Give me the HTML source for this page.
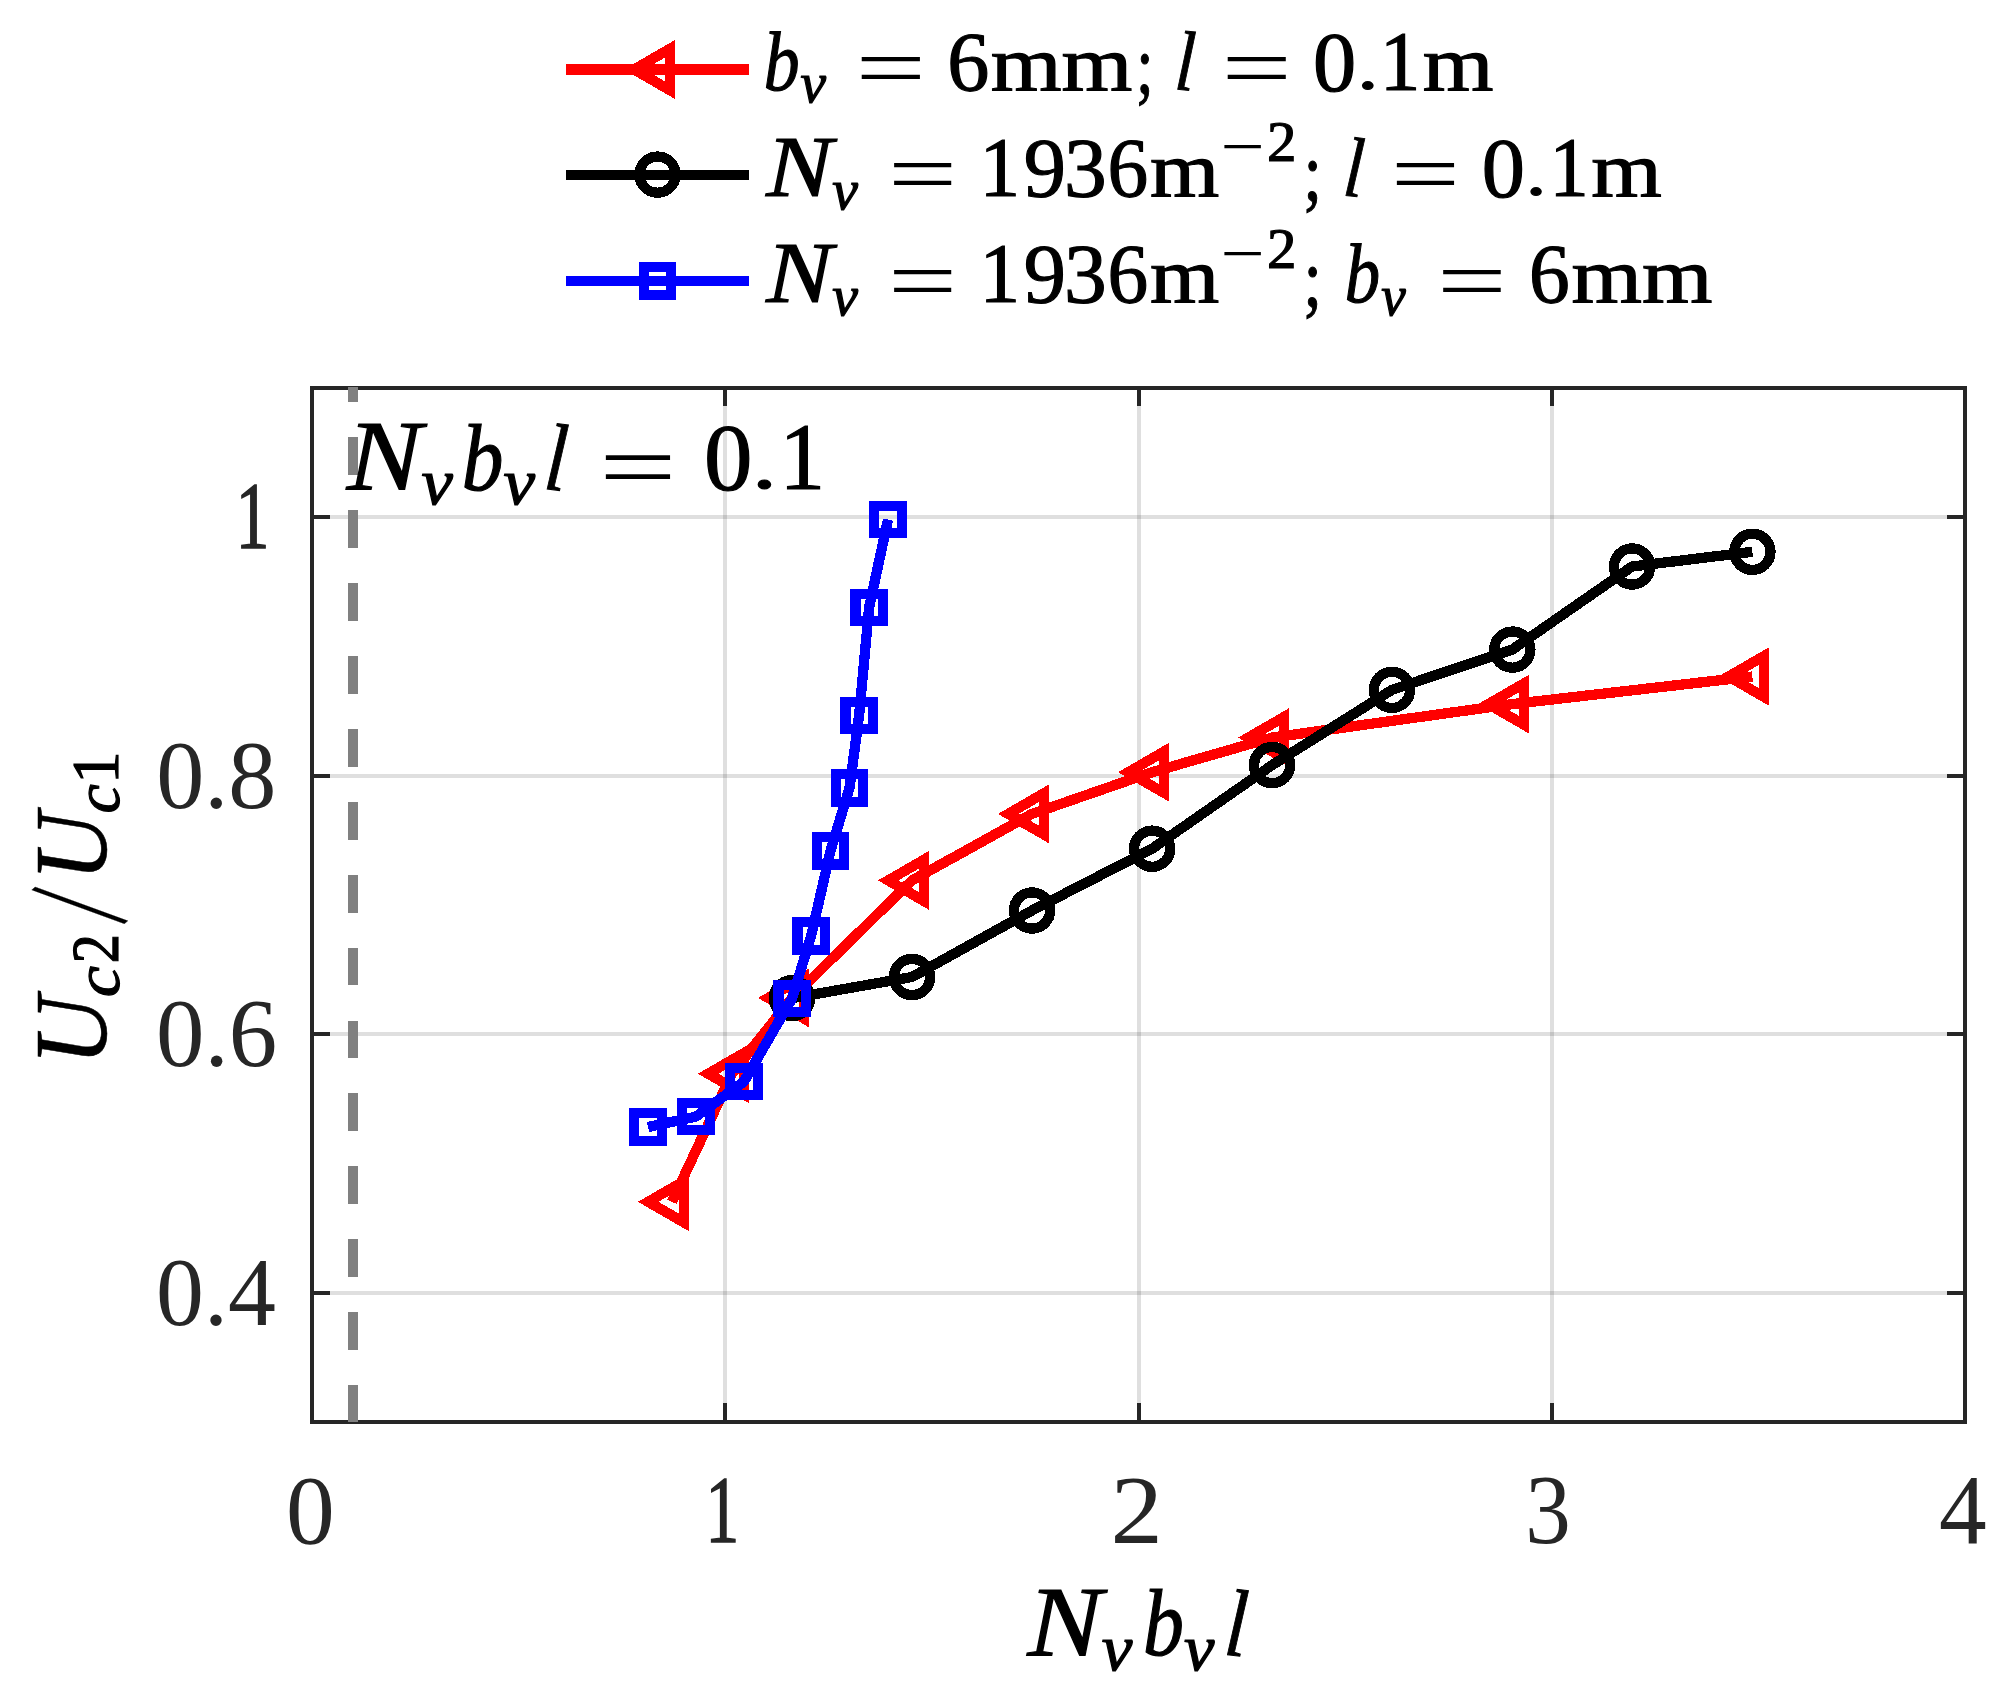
<!DOCTYPE html>
<html lang="en">
<head>
<meta charset="utf-8">
<title>Uc2/Uc1 versus Nv bv l</title>
<style>
html,body{margin:0;padding:0;background:#fff;}
body{width:2012px;height:1698px;overflow:hidden;}
svg{display:block;}
svg text{font-family:"Liberation Serif","DejaVu Serif",serif;font-kerning:none;font-variant-ligatures:none;white-space:pre;}
</style>
</head>
<body>
<svg width="2012" height="1698" viewBox="0 0 2012 1698">
<rect x="0" y="0" width="2012" height="1698" fill="#fff"/>
<g shape-rendering="crispEdges" stroke="#262626" stroke-opacity="0.15" stroke-width="4" fill="none">
<path d="M725 388V1422M1139 388V1422M1552 388V1422"/>
<path d="M312 1293H1965M312 1034H1965M312 776H1965M312 517H1965"/>
</g>
<g shape-rendering="crispEdges" stroke="#ff0000" stroke-width="10.3" fill="none" stroke-linejoin="round"><path d="M672 1201.8L732 1073.7L792 997.9L912 880.4L1032 813.9L1152.1 772.2L1272.1 737.6L1512.1 704.1L1752.4 676.5"/><path stroke-linejoin="miter" stroke-miterlimit="10" d="M648.2 1201.8L683.9 1181.189L683.9 1222.411ZM708.2 1073.7L743.9 1053.089L743.9 1094.311ZM768.2 997.9L803.9 977.289L803.9 1018.511ZM888.2 880.4L923.9 859.789L923.9 901.011ZM1008.2 813.9L1043.9 793.289L1043.9 834.511ZM1128.3 772.2L1164 751.589L1164 792.811ZM1248.3 737.6L1284 716.989L1284 758.211ZM1488.3 704.1L1524 683.489L1524 724.711ZM1728.6 676.5L1764.3 655.889L1764.3 697.111Z"/></g>
<g shape-rendering="crispEdges" stroke="#000000" stroke-width="10.3" fill="none" stroke-linejoin="round"><path d="M792 998.2L912 977L1032 910.5L1152.1 848.7L1272.1 765.1L1392 689.8L1512.3 649.6L1632.1 566.5L1752.4 551.8"/><circle cx="792" cy="998.2" r="18.1"/><circle cx="912" cy="977" r="18.1"/><circle cx="1032" cy="910.5" r="18.1"/><circle cx="1152.1" cy="848.7" r="18.1"/><circle cx="1272.1" cy="765.1" r="18.1"/><circle cx="1392" cy="689.8" r="18.1"/><circle cx="1512.3" cy="649.6" r="18.1"/><circle cx="1632.1" cy="566.5" r="18.1"/><circle cx="1752.4" cy="551.8" r="18.1"/></g>
<g shape-rendering="crispEdges" stroke="#0000ff" stroke-width="10.3" fill="none" stroke-linejoin="round"><path d="M648 1127L696 1116.6L744 1081.5L792.1 998.4L811.1 936L830.5 850.9L849.5 788L859.1 715.5L869.1 607.5L888 519.6"/><path stroke-linejoin="miter" d="M634.3 1113.3h27.4v27.4h-27.4ZM682.3 1102.9h27.4v27.4h-27.4ZM730.3 1067.8h27.4v27.4h-27.4ZM778.4 984.7h27.4v27.4h-27.4ZM797.4 922.3h27.4v27.4h-27.4ZM816.8 837.2h27.4v27.4h-27.4ZM835.8 774.3h27.4v27.4h-27.4ZM845.4 701.8h27.4v27.4h-27.4ZM855.4 593.8h27.4v27.4h-27.4ZM874.3 505.9h27.4v27.4h-27.4Z"/></g>
<path shape-rendering="crispEdges" d="M725 1422v-19M725 388v18M1139 1422v-19M1139 388v18M1552 1422v-19M1552 388v18M312 1293h18M1965 1293h-18M312 1034h18M1965 1034h-18M312 776h18M1965 776h-18M312 517h18M1965 517h-18" stroke="#262626" stroke-width="4" fill="none"/>
<rect shape-rendering="crispEdges" x="312" y="388" width="1653" height="1034" stroke="#262626" stroke-width="4" fill="none"/>
<path shape-rendering="crispEdges" d="M353 1422V387" stroke="#808080" stroke-width="10" stroke-dasharray="37.8 35.1" stroke-dashoffset="0.8" fill="none"/>
<g shape-rendering="crispEdges" stroke="#ff0000" stroke-width="10.3" fill="none"><path d="M566.1 69.5H748.9"/><path stroke-miterlimit="10" d="M634.1 69.5L669.8 48.889L669.8 90.111Z"/></g>
<g shape-rendering="crispEdges" stroke="#000" stroke-width="10.3" fill="none"><path d="M566.1 175.1H748.9"/><circle cx="657.5" cy="174.6" r="18.1"/></g>
<g shape-rendering="crispEdges" stroke="#0000ff" stroke-width="10.3" fill="none"><path d="M566.1 281H748.9"/><path d="M643.8 267.3h27.4v27.4h-27.4Z"/></g>
<g id="labels">
<text fill="#262626"><tspan x="286.089" y="1543.043" font-size="97.954" textLength="48.723" lengthAdjust="spacingAndGlyphs">0</tspan></text>
<text fill="#262626" stroke="#262626"><tspan x="705.583" y="1542" font-size="96.038" textLength="33.66" lengthAdjust="spacingAndGlyphs" stroke-width="1.6">1</tspan></text>
<text fill="#262626"><tspan x="1110.396" y="1542.9" font-size="98.171" textLength="52.385" lengthAdjust="spacingAndGlyphs">2</tspan></text>
<text fill="#262626"><tspan x="1525.244" y="1543.036" font-size="98.679" textLength="45.511" lengthAdjust="spacingAndGlyphs">3</tspan></text>
<text fill="#262626"><tspan x="1939.039" y="1542.9" font-size="99.209" textLength="47.65" lengthAdjust="spacingAndGlyphs">4</tspan></text>
<text fill="#262626"><tspan x="156.052" y="1324.624" font-size="97.173" textLength="119.745" lengthAdjust="spacingAndGlyphs">0.4</tspan></text>
<text fill="#262626"><tspan x="156.008" y="1066.107" font-size="98.351" textLength="121.18" lengthAdjust="spacingAndGlyphs">0.6</tspan></text>
<text fill="#262626"><tspan x="156.137" y="807.618" font-size="97.615" textLength="120.226" lengthAdjust="spacingAndGlyphs">0.8</tspan></text>
<text fill="#262626" stroke="#262626"><tspan x="235.746" y="548.1" font-size="96.038" textLength="33.589" lengthAdjust="spacingAndGlyphs" stroke-width="1.6">1</tspan></text>
<text stroke="#000" stroke-width="1.2"><tspan x="763.741" y="89.616" font-size="84.189" textLength="35.828" lengthAdjust="spacingAndGlyphs" font-style="italic">b</tspan><tspan x="800.415" y="102.403" font-size="56.21" textLength="25.485" lengthAdjust="spacingAndGlyphs" font-style="italic">v</tspan><tspan font-size="20"> </tspan><tspan x="855.471" y="96.983" font-size="85.982" textLength="70.536" lengthAdjust="spacingAndGlyphs" stroke-width="0">=</tspan><tspan font-size="20"> </tspan><tspan x="947.279" y="90.541" font-size="85.561" textLength="42.13" lengthAdjust="spacingAndGlyphs">6</tspan><tspan x="990.788" y="89.5" font-size="77.469" textLength="141.634" lengthAdjust="spacingAndGlyphs">mm</tspan><tspan x="1136.178" y="93.119" font-size="83.504" textLength="17.293" lengthAdjust="spacingAndGlyphs">;</tspan><tspan font-size="20"> </tspan><tspan x="1173.905" y="89.104" font-size="84.93" textLength="19.349" lengthAdjust="spacingAndGlyphs" rotate="4.549" font-style="italic" stroke-width="1">l</tspan><tspan font-size="20"> </tspan><tspan x="1221.582" y="96.983" font-size="85.982" textLength="70.415" lengthAdjust="spacingAndGlyphs" stroke-width="0">=</tspan><tspan font-size="20"> </tspan><tspan x="1313.011" y="90.545" font-size="85.19" textLength="43.178" lengthAdjust="spacingAndGlyphs">0</tspan><tspan x="1356.91" y="88.56" font-size="66.364" textLength="21.58" lengthAdjust="spacingAndGlyphs">.</tspan><tspan x="1379.76" y="89.5" font-size="84.237" textLength="40.619" lengthAdjust="spacingAndGlyphs">1</tspan><tspan x="1422.691" y="89.5" font-size="77.469" textLength="70.73" lengthAdjust="spacingAndGlyphs">m</tspan></text>
<text stroke="#000" stroke-width="1.2"><tspan x="766.228" y="195.9" font-size="87.448" textLength="66.264" lengthAdjust="spacingAndGlyphs" font-style="italic">N</tspan><tspan x="832.209" y="208.803" font-size="56.21" textLength="25.691" lengthAdjust="spacingAndGlyphs" font-style="italic">v</tspan><tspan font-size="20"> </tspan><tspan x="887.989" y="203.383" font-size="85.982" textLength="69.203" lengthAdjust="spacingAndGlyphs" stroke-width="0">=</tspan><tspan font-size="20"> </tspan><tspan x="979.46" y="195.9" font-size="84.237" textLength="40.619" lengthAdjust="spacingAndGlyphs">1</tspan><tspan x="1023.681" y="196.941" font-size="85.561" textLength="42.178" lengthAdjust="spacingAndGlyphs">9</tspan><tspan x="1064.011" y="196.941" font-size="85.561" textLength="42.727" lengthAdjust="spacingAndGlyphs">3</tspan><tspan x="1107.4" y="196.941" font-size="85.561" textLength="40.726" lengthAdjust="spacingAndGlyphs">6</tspan><tspan x="1150.03" y="195.9" font-size="77.469" textLength="69.261" lengthAdjust="spacingAndGlyphs">m</tspan><tspan x="1220.493" y="168.333" font-size="64.251" textLength="44.237" lengthAdjust="spacingAndGlyphs" stroke-width="0">−</tspan><tspan x="1267.113" y="161.1" font-size="57.543" textLength="29.435" lengthAdjust="spacingAndGlyphs">2</tspan><tspan x="1303.571" y="199.519" font-size="83.504" textLength="18.409" lengthAdjust="spacingAndGlyphs">;</tspan><tspan font-size="20"> </tspan><tspan x="1342.217" y="195.113" font-size="84.824" textLength="19.325" lengthAdjust="spacingAndGlyphs" rotate="5.801" font-style="italic" stroke-width="1">l</tspan><tspan font-size="20"> </tspan><tspan x="1390.678" y="203.383" font-size="85.982" textLength="69.324" lengthAdjust="spacingAndGlyphs" stroke-width="0">=</tspan><tspan font-size="20"> </tspan><tspan x="1481.811" y="196.945" font-size="85.19" textLength="43.178" lengthAdjust="spacingAndGlyphs">0</tspan><tspan x="1525.521" y="194.96" font-size="66.364" textLength="21.157" lengthAdjust="spacingAndGlyphs">.</tspan><tspan x="1549.61" y="195.9" font-size="84.237" textLength="39.199" lengthAdjust="spacingAndGlyphs">1</tspan><tspan x="1591.296" y="195.9" font-size="77.469" textLength="70.52" lengthAdjust="spacingAndGlyphs">m</tspan></text>
<text stroke="#000" stroke-width="1.2"><tspan x="766.228" y="302.3" font-size="87.448" textLength="66.264" lengthAdjust="spacingAndGlyphs" font-style="italic">N</tspan><tspan x="832.209" y="315.203" font-size="56.21" textLength="25.691" lengthAdjust="spacingAndGlyphs" font-style="italic">v</tspan><tspan font-size="20"> </tspan><tspan x="887.989" y="309.783" font-size="85.982" textLength="69.203" lengthAdjust="spacingAndGlyphs" stroke-width="0">=</tspan><tspan font-size="20"> </tspan><tspan x="979.46" y="302.3" font-size="84.237" textLength="40.619" lengthAdjust="spacingAndGlyphs">1</tspan><tspan x="1023.681" y="303.341" font-size="85.561" textLength="42.178" lengthAdjust="spacingAndGlyphs">9</tspan><tspan x="1064.011" y="303.341" font-size="85.561" textLength="42.727" lengthAdjust="spacingAndGlyphs">3</tspan><tspan x="1107.4" y="303.341" font-size="85.561" textLength="40.726" lengthAdjust="spacingAndGlyphs">6</tspan><tspan x="1150.03" y="302.3" font-size="77.469" textLength="69.261" lengthAdjust="spacingAndGlyphs">m</tspan><tspan x="1220.493" y="274.733" font-size="64.251" textLength="44.237" lengthAdjust="spacingAndGlyphs" stroke-width="0">−</tspan><tspan x="1267.113" y="267.5" font-size="57.543" textLength="29.435" lengthAdjust="spacingAndGlyphs">2</tspan><tspan x="1303.571" y="305.919" font-size="83.504" textLength="18.409" lengthAdjust="spacingAndGlyphs">;</tspan><tspan font-size="20"> </tspan><tspan x="1344.675" y="302.416" font-size="84.189" textLength="35.366" lengthAdjust="spacingAndGlyphs" font-style="italic">b</tspan><tspan x="1381.347" y="315.203" font-size="56.21" textLength="24.453" lengthAdjust="spacingAndGlyphs" font-style="italic">v</tspan><tspan font-size="20"> </tspan><tspan x="1437.035" y="309.783" font-size="85.982" textLength="69.809" lengthAdjust="spacingAndGlyphs" stroke-width="0">=</tspan><tspan font-size="20"> </tspan><tspan x="1529" y="303.341" font-size="85.561" textLength="40.726" lengthAdjust="spacingAndGlyphs">6</tspan><tspan x="1571.599" y="302.3" font-size="77.469" textLength="140.815" lengthAdjust="spacingAndGlyphs">mm</tspan></text>
<text stroke="#000" stroke-width="1.2"><tspan x="346.824" y="489.4" font-size="98.609" textLength="75.056" lengthAdjust="spacingAndGlyphs" font-style="italic">N</tspan><tspan x="421.534" y="504.409" font-size="64.515" textLength="31.366" lengthAdjust="spacingAndGlyphs" font-style="italic">v</tspan><tspan x="461.703" y="489.529" font-size="94.91" textLength="41.723" lengthAdjust="spacingAndGlyphs" font-style="italic">b</tspan><tspan x="503.627" y="504.409" font-size="64.515" textLength="31.573" lengthAdjust="spacingAndGlyphs" font-style="italic">v</tspan><tspan x="543.051" y="488.46" font-size="95.581" textLength="21.775" lengthAdjust="spacingAndGlyphs" rotate="5.913" font-style="italic" stroke-width="1">l</tspan><tspan font-size="20"> </tspan><tspan x="598.929" y="498.709" font-size="95.2" textLength="77.808" lengthAdjust="spacingAndGlyphs" stroke-width="0">=</tspan><tspan font-size="20"> </tspan><tspan x="704.107" y="490.365" font-size="95.731" textLength="48.487" lengthAdjust="spacingAndGlyphs">0</tspan><tspan x="751.806" y="488.321" font-size="76.165" textLength="25.388" lengthAdjust="spacingAndGlyphs">.</tspan><tspan x="779.386" y="489.4" font-size="94.675" textLength="45.59" lengthAdjust="spacingAndGlyphs">1</tspan></text>
<text stroke="#000" stroke-width="1.2"><tspan x="1027.52" y="1655" font-size="98.609" textLength="74.686" lengthAdjust="spacingAndGlyphs" font-style="italic">N</tspan><tspan x="1101.756" y="1670.009" font-size="64.515" textLength="30.644" lengthAdjust="spacingAndGlyphs" font-style="italic">v</tspan><tspan x="1142.963" y="1655.129" font-size="94.91" textLength="40.914" lengthAdjust="spacingAndGlyphs" font-style="italic">b</tspan><tspan x="1184.062" y="1670.009" font-size="64.515" textLength="30.438" lengthAdjust="spacingAndGlyphs" font-style="italic">v</tspan><tspan x="1223.347" y="1654.177" font-size="95.607" textLength="21.781" lengthAdjust="spacingAndGlyphs" rotate="5.58" font-style="italic" stroke-width="1">l</tspan></text>
<text stroke="#000" stroke-width="1.2" transform="translate(104.8 1056.9) rotate(-90)"><tspan x="-8.6" y="0.745" font-size="102.927" textLength="69.625" lengthAdjust="spacingAndGlyphs" font-style="italic" stroke-width="0.5">U</tspan><tspan x="59.536" y="13.971" font-size="64.455" textLength="31.219" lengthAdjust="spacingAndGlyphs" font-style="italic">c</tspan><tspan x="93.635" y="13.5" font-size="67.965" textLength="29.186" lengthAdjust="spacingAndGlyphs">2</tspan><tspan x="133.48" y="18" font-size="179.59" textLength="19.4" lengthAdjust="spacingAndGlyphs" rotate="24.23" stroke-width="0.4">/</tspan><tspan x="175.58" y="0.745" font-size="102.927" textLength="68.992" lengthAdjust="spacingAndGlyphs" font-style="italic" stroke-width="0.5">U</tspan><tspan x="243.42" y="13.971" font-size="64.455" textLength="29.289" lengthAdjust="spacingAndGlyphs" font-style="italic">c</tspan><tspan x="273.033" y="13.5" font-size="68.166" textLength="32.24" lengthAdjust="spacingAndGlyphs">1</tspan></text>
</g>
</svg>
</body>
</html>
